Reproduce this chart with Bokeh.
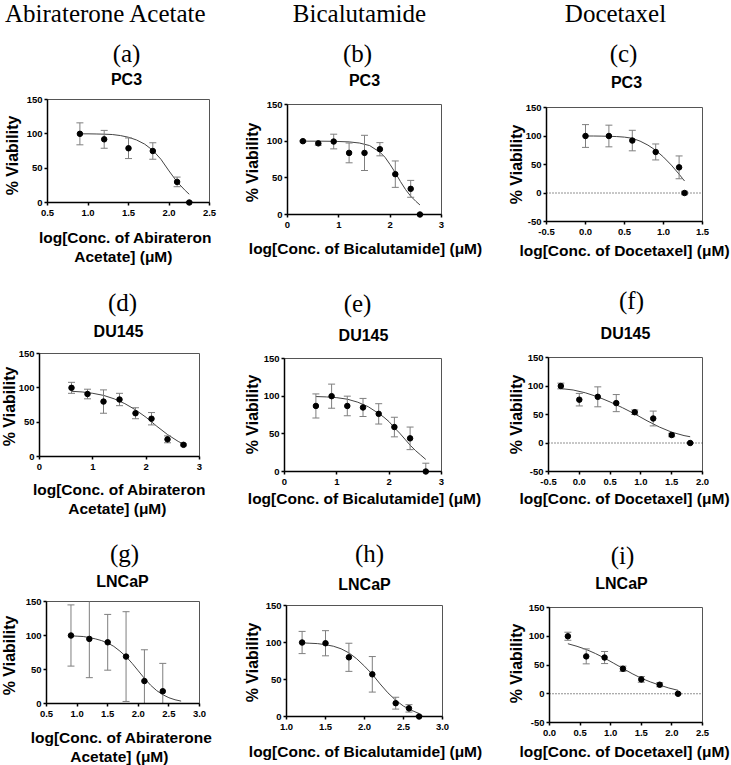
import math
from bokeh.plotting import figure
from bokeh.models import Range1d, FixedTicker, Span
from bokeh.core.properties import value
from bokeh.layouts import row, column
from bokeh.embed import file_html
from bokeh.resources import INLINE

# ---------------- text ----------------
drug_names = ["Abiraterone Acetate", "Bicalutamide", "Docetaxel"]
cell_lines = ["PC3", "DU145", "LNCaP"]
panel_letters = ["(a)", "(b)", "(c)", "(d)", "(e)", "(f)", "(g)", "(h)", "(i)"]
x_labels = [
    ["log[Conc. of Abirateron", "Acetate]  (\u03bcM)"],
    ["log[Conc. of Bicalutamide] (\u03bcM)"],
    ["log[Conc. of Docetaxel] (\u03bcM)"],
    ["log[Conc. of Abirateron", "Acetate]  (\u03bcM)"],
    ["log[Conc. of Bicalutamide] (\u03bcM)"],
    ["log[Conc. of Docetaxel] (\u03bcM)"],
    ["log[Conc. of Abiraterone", "Acetate]  (\u03bcM)"],
    ["log[Conc. of Bicalutamide] (\u03bcM)"],
    ["log[Conc. of Docetaxel] (\u03bcM)"],
]
y_label = "% Viability"

# ---------------- axis ticks ----------------
x_ticks = [
    [0.5, 1.0, 1.5, 2.0, 2.5], [0, 1, 2, 3], [-0.5, 0.0, 0.5, 1.0, 1.5],
    [0, 1, 2, 3], [0, 1, 2, 3], [-0.5, 0.0, 0.5, 1.0, 1.5, 2.0],
    [0.5, 1.0, 1.5, 2.0, 2.5, 3.0], [1.0, 1.5, 2.0, 2.5, 3.0], [0.0, 0.5, 1.0, 1.5, 2.0, 2.5],
]
x_tick_labels = [
    ["0.5", "1.0", "1.5", "2.0", "2.5"], ["0", "1", "2", "3"], ["-0.5", "0.0", "0.5", "1.0", "1.5"],
    ["0", "1", "2", "3"], ["0", "1", "2", "3"], ["-0.5", "0.0", "0.5", "1.0", "1.5", "2.0"],
    ["0.5", "1.0", "1.5", "2.0", "2.5", "3.0"], ["1.0", "1.5", "2.0", "2.5", "3.0"],
    ["0.0", "0.5", "1.0", "1.5", "2.0", "2.5"],
]
y_ticks_pos = [0, 50, 100, 150]
y_ticks_neg = [-50, 0, 50, 100, 150]

# ---------------- data ----------------
# (a) Abiraterone / PC3
a_x = [0.9, 1.2, 1.5, 1.8, 2.1, 2.25]
a_y = [100, 92, 79, 75, 30, 0]
a_err = [16, 13, 15, 12, 7, 1]
a_fit_x = [0.9, 1.0, 1.1, 1.2, 1.3, 1.4, 1.5, 1.6, 1.7, 1.8, 1.9, 2.0, 2.1, 2.2, 2.25]
a_fit_y = [100, 100, 99.8, 99.5, 99, 97.5, 95, 91, 85, 76, 63, 46, 30, 17.5, 12]

# (b) Bicalutamide / PC3
b_x = [0.3, 0.6, 0.9, 1.2, 1.5, 1.8, 2.1, 2.4, 2.58]
b_y = [100, 97, 99.5, 84, 84, 89, 55, 35, 0]
b_err = [1, 2.5, 10, 13.5, 24, 9, 18, 11.5, 0.5]
b_fit_x = [0.3, 0.6, 0.9, 1.2, 1.4, 1.6, 1.8, 1.9, 2.0, 2.1, 2.2, 2.3, 2.4, 2.5, 2.58]
b_fit_y = [100, 100, 99.8, 99, 97.5, 94, 85, 78, 68, 57, 45, 34, 25, 18, 13]

# (c) Docetaxel / PC3
c_x = [0.0, 0.3, 0.6, 0.9, 1.2, 1.27]
c_y = [100, 100, 92, 72, 45, 0]
c_err = [20, 19, 18, 14, 20, 3]
c_fit_x = [0.0, 0.1, 0.2, 0.3, 0.4, 0.5, 0.6, 0.7, 0.8, 0.9, 1.0, 1.1, 1.2, 1.27]
c_fit_y = [100, 100, 99.8, 99.5, 99, 98, 96, 91, 84, 75, 63, 49, 33, 21]

# (d) Abiraterone / DU145
d_x = [0.6, 0.9, 1.2, 1.5, 1.8, 2.1, 2.4, 2.7]
d_y = [100, 91, 80, 83, 63, 55, 25, 17]
d_err = [8, 7, 17, 9, 8, 9, 5, 1.5]
d_fit_x = [0.6, 0.8, 1.0, 1.2, 1.4, 1.6, 1.8, 2.0, 2.2, 2.4, 2.6, 2.7]
d_fit_y = [95, 94, 92, 89, 84, 77, 68, 57, 44, 32, 22, 18]

# (e) Bicalutamide / DU145
e_x = [0.6, 0.9, 1.2, 1.5, 1.8, 2.1, 2.4, 2.7]
e_y = [87, 100, 87, 85, 76.5, 59, 44, 0]
e_err = [16, 16, 13, 12, 13.5, 13, 15, 11]
e_fit_x = [0.6, 0.8, 1.0, 1.2, 1.4, 1.6, 1.8, 1.9, 2.0, 2.1, 2.2, 2.3, 2.4, 2.5, 2.6, 2.7]
e_fit_y = [99.5, 99, 98, 96, 92, 86, 77, 72, 66, 58, 51, 43, 35, 28, 22, 16]

# (f) Docetaxel / DU145
f_x = [-0.3, 0.0, 0.3, 0.6, 0.9, 1.2, 1.5, 1.8]
f_y = [100, 76, 81, 70, 54, 43, 14, 0]
f_err = [5, 11, 17.5, 15, 4, 13, 3, 1]
f_fit_x = [-0.3, -0.1, 0.1, 0.3, 0.5, 0.7, 0.9, 1.1, 1.3, 1.5, 1.7, 1.8]
f_fit_y = [95.5, 93, 88, 81, 72, 62, 51, 39, 28, 19, 13, 11]

# (g) Abiraterone / LNCaP
g_x = [0.9, 1.2, 1.5, 1.8, 2.1, 2.4]
g_y = [100, 95, 90, 69, 33, 18]
g_err = [45, 57, 41, 66, 46, 41]
g_fit_x = [0.9, 1.0, 1.1, 1.2, 1.3, 1.4, 1.5, 1.6, 1.7, 1.8, 1.9, 2.0, 2.1, 2.2, 2.3, 2.4, 2.5, 2.6, 2.7]
g_fit_y = [99.5, 99, 98.5, 97, 95, 92.5, 89, 84, 77, 69, 59, 48, 37, 27, 19, 13, 8.5, 5.5, 3.5]

# (h) Bicalutamide / LNCaP
h_x = [1.2, 1.5, 1.8, 2.1, 2.4, 2.57, 2.7]
h_y = [100, 99, 80, 57, 18, 11, 0]
h_err = [15, 17, 19, 24, 8, 5, 1]
h_fit_x = [1.2, 1.3, 1.4, 1.5, 1.6, 1.7, 1.8, 1.9, 2.0, 2.1, 2.2, 2.3, 2.4, 2.5, 2.6, 2.7]
h_fit_y = [99.5, 99, 98.5, 97, 95, 91.5, 86, 78, 68, 57, 44, 32, 22, 14, 8.5, 4]

# (i) Docetaxel / LNCaP
i_x = [0.3, 0.6, 0.9, 1.2, 1.5, 1.8, 2.1]
i_y = [100, 65, 63, 43.5, 25, 15.7, 0]
i_err = [7, 13, 10.5, 4.5, 5, 3.5, 1]
i_fit_x = [0.3, 0.45, 0.6, 0.75, 0.9, 1.05, 1.2, 1.35, 1.5, 1.65, 1.8, 1.95, 2.1]
i_fit_y = [87, 82.5, 77, 70, 62, 53, 44, 35, 27, 20.5, 15, 10, 6]

series = [
    (a_x, a_y, a_err, a_fit_x, a_fit_y), (b_x, b_y, b_err, b_fit_x, b_fit_y),
    (c_x, c_y, c_err, c_fit_x, c_fit_y), (d_x, d_y, d_err, d_fit_x, d_fit_y),
    (e_x, e_y, e_err, e_fit_x, e_fit_y), (f_x, f_y, f_err, f_fit_x, f_fit_y),
    (g_x, g_y, g_err, g_fit_x, g_fit_y), (h_x, h_y, h_err, h_fit_x, h_fit_y),
    (i_x, i_y, i_err, i_fit_x, i_fit_y),
]
has_negative = [False, False, True, False, False, True, False, False, True]

# ---------------- layout (page pixels) ----------------
COL_X = [0, 230, 495]
COL_W = [230, 265, 236]
ROW_Y = [0, 268, 520]
ROW_H = [268, 252, 245]
# frame: left, right, top, bottom
FRAMES = [
    (47, 209, 99, 202), (287, 441, 104, 214), (546, 702, 107, 221),
    (39, 199, 353, 456), (284, 441, 358, 471), (548, 702, 357, 471),
    (46, 199, 601, 703), (286, 442, 605, 716), (549, 702, 607, 722),
]
COL_TITLE_POS = [(105.5, 12.5), (359, 12.5), (615, 12.5)]
LETTER_POS = [(126, 53), (357, 53), (623, 53), (122, 302), (357, 303), (631, 300),
              (124, 553), (369, 553), (622, 555)]
CELL_POS = [(126, 79), (364, 80), (626, 82), (118, 331), (363, 335), (625, 333),
            (122, 581), (364, 584), (621, 583)]
YLAB_POS = [(12, 155), (252, 162), (516, 164), (8.5, 406), (252, 414), (516, 414),
            (8.5, 655), (252, 662), (516, 663)]
XLAB_POS = [(125, 237), (365, 248), (624, 250), (119, 489), (364, 498), (624, 498),
            (121, 737), (365, 751), (624, 751)]
XLAB_GAP = 18.5

SANS = "Liberation Sans"
SERIF = "Liberation Serif"


def add_text(p, fr, xr, yr, X, Y, text, size, font, bold, angle=0.0):
    # convert page pixel position to the figure's data coordinates
    L, R, T, B = fr
    xd = xr[0] + (X - L) / (R - L) * (xr[1] - xr[0])
    yd = yr[0] + (B - Y) / (B - T) * (yr[1] - yr[0])
    p.text(x=[xd], y=[yd], text=[text], text_font=value(font),
           text_font_size=value(f"{size}px"),
           text_font_style="bold" if bold else "normal",
           text_align="center", text_baseline="middle",
           angle=angle, text_color="black", level="overlay")


figs = []
for k in range(9):
    r, c = divmod(k, 3)
    L, R, T, B = FRAMES[k]
    cx, cy, cw, ch = COL_X[c], ROW_Y[r], COL_W[c], ROW_H[r]
    xs, ys, es, fx, fy = series[k]
    xt = x_ticks[k]
    yt = y_ticks_neg if has_negative[k] else y_ticks_pos
    xr = (xt[0], xt[-1])
    yr = (yt[0], yt[-1])
    p = figure(width=cw, height=ch, output_backend="svg", toolbar_location=None,
               x_range=Range1d(*xr), y_range=Range1d(*yr),
               min_border_left=L - cx, min_border_right=cx + cw - R,
               min_border_top=T - cy, min_border_bottom=cy + ch - B)
    p.xgrid.visible = False
    p.ygrid.visible = False
    p.outline_line_color = "#555555"
    p.outline_line_width = 1
    p.background_fill_color = "white"
    p.border_fill_color = "white"
    for ax in (p.xaxis[0], p.yaxis[0]):
        ax.axis_line_color = "black"
        ax.axis_line_width = 1.5
        ax.major_tick_line_color = "black"
        ax.major_tick_line_width = 1.5
        ax.major_tick_in = 0
        ax.major_tick_out = 3
        ax.minor_tick_line_color = None
        ax.major_label_text_font = SANS
        ax.major_label_text_font_size = "9.5px"
        ax.major_label_text_font_style = "bold"
        ax.major_label_text_color = "black"
    p.xaxis[0].ticker = FixedTicker(ticks=xt)
    p.xaxis[0].major_label_overrides = {t: lab for t, lab in zip(xt, x_tick_labels[k])}
    p.xaxis[0].major_label_standoff = 4
    p.yaxis[0].ticker = FixedTicker(ticks=yt)
    p.yaxis[0].major_label_overrides = {t: str(t) for t in yt}
    p.yaxis[0].major_label_standoff = 2

    if has_negative[k]:
        p.add_layout(Span(location=0, dimension="width", line_color="#222222",
                          line_width=1, line_dash="1 2"))

    p.line(fx, fy, line_color="#444444", line_width=1)
    lo = [y - e for y, e in zip(ys, es)]
    hi = [y + e for y, e in zip(ys, es)]
    p.segment(x0=xs, y0=lo, x1=xs, y1=hi, line_color="#7f7f7f", line_width=1)
    p.scatter(xs + xs, lo + hi, marker="dash", size=7, line_color="#7f7f7f", line_width=1)
    p.scatter(xs, ys, size=5.5, fill_color="black", line_color="black", level="overlay")

    # texts
    fr = FRAMES[k]
    if r == 0:
        X, Y = COL_TITLE_POS[c]
        add_text(p, fr, xr, yr, X, Y, drug_names[c], 25, SERIF, False)
    X, Y = LETTER_POS[k]
    add_text(p, fr, xr, yr, X, Y, panel_letters[k], 25, SERIF, False)
    X, Y = CELL_POS[k]
    add_text(p, fr, xr, yr, X, Y, cell_lines[r], 16, SANS, True)
    X, Y = YLAB_POS[k]
    add_text(p, fr, xr, yr, X, Y, y_label, 16, SANS, True, angle=math.pi / 2)
    X, Y = XLAB_POS[k]
    for j, line in enumerate(x_labels[k]):
        add_text(p, fr, xr, yr, X, Y + j * XLAB_GAP, line, 15.5, SANS, True)
    figs.append(p)

# each figure wrapped in its own column so that frames are not aligned across a row
wrapped = [column(f, spacing=0) for f in figs]
layout = column(row(*wrapped[0:3], spacing=0), row(*wrapped[3:6], spacing=0),
                row(*wrapped[6:9], spacing=0), spacing=0)
open("out.html", "w").write(file_html(layout, INLINE))
